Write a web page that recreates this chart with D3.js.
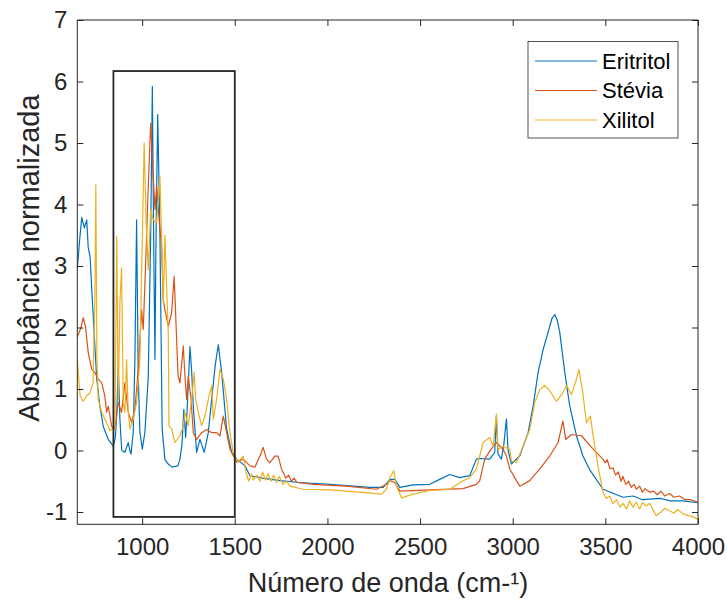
<!DOCTYPE html>
<html><head><meta charset="utf-8">
<script src="https://cdn.jsdelivr.net/npm/d3@7"></script>
<style>
body{margin:0;background:#fff;}
svg{display:block;font-family:"Liberation Sans",Arial,Helvetica,sans-serif;}
</style></head>
<body><svg id="c" width="727" height="601"></svg>
<script>
const seriesNames = ["Eritritol","Stévia","Xilitol"];
const seriesColors = ["#0072BD","#D95319","#EDB120"];
const xTicks = [1000,1500,2000,2500,3000,3500,4000];
const yTicks = [-1,0,1,2,3,4,5,6,7];
const xLabel = "Número de onda (cm-¹)";
const yLabel = "Absorbância normalizada";
const zoomBox = [845,1500,-1.08,6.17];

const eritritol = [[650,2.94],[662,3.4],[674,3.79],[688,3.62],[701,3.75],[709,3.3],[719,3.15],[728,2.62],[745,1.69],[755,1.16],[772,0.72],[790,0.39],[817,0.18],[844,0.07],[855,0.2],[863,0.6],[871,1.37],[880,0.5],[890,0.0],[907,-0.03],[916,0.05],[925,0.13],[934,0.0],[940,-0.06],[952,0.3],[961,1.5],[970,3.75],[979,1.2],[988,0.3],[1001,0.02],[1015,0.3],[1033,1.2],[1046,3.5],[1055,5.92],[1062,3.5],[1069,1.48],[1075,3.5],[1084,5.46],[1096,3.5],[1108,0.35],[1123,-0.15],[1141,-0.22],[1161,-0.27],[1193,-0.25],[1204,-0.14],[1215,0.1],[1225,0.67],[1235,0.21],[1245,0.8],[1258,1.69],[1267,1.3],[1276,0.72],[1294,-0.03],[1312,0.18],[1335,-0.03],[1357,0.29],[1375,0.83],[1395,1.4],[1411,1.72],[1429,1.27],[1456,0.35],[1483,-0.03],[1510,-0.14],[1555,-0.25],[1582,-0.41],[1650,-0.45],[1743,-0.49],[1850,-0.52],[2013,-0.55],[2229,-0.6],[2301,-0.6],[2337,-0.47],[2364,-0.47],[2391,-0.6],[2462,-0.56],[2552,-0.55],[2606,-0.47],[2660,-0.39],[2714,-0.44],[2768,-0.41],[2804,-0.14],[2822,-0.13],[2876,-0.14],[2903,-0.03],[2912,0.56],[2920,-0.05],[2939,-0.14],[2952,0.1],[2966,0.51],[2975,0.0],[2993,-0.22],[3038,-0.09],[3083,0.29],[3110,0.72],[3137,1.27],[3164,1.64],[3200,2.02],[3212,2.15],[3227,2.21],[3240,2.12],[3254,1.92],[3281,1.27],[3308,0.72],[3344,0.24],[3379,-0.09],[3415,-0.31],[3487,-0.63],[3595,-0.76],[3650,-0.74],[3700,-0.8],[3739,-0.79],[3800,-0.78],[3850,-0.82],[3919,-0.82],[3998,-0.85]];

const stevia = [[650,1.84],[670,2.0],[682,2.16],[695,2.0],[709,1.59],[728,1.32],[745,1.27],[763,1.16],[782,1.1],[799,0.88],[808,0.62],[817,0.72],[836,0.39],[853,0.35],[871,0.78],[889,0.62],[907,1.1],[925,0.62],[943,0.46],[961,0.67],[979,1.32],[997,2.29],[1006,1.97],[1021,3.22],[1033,4.29],[1046,5.32],[1057,4.62],[1069,3.92],[1078,4.29],[1092,3.75],[1105,3.32],[1114,2.45],[1123,2.29],[1141,2.02],[1159,2.24],[1173,2.83],[1186,1.81],[1194,1.21],[1204,1.1],[1222,1.7],[1231,1.21],[1240,0.83],[1249,1.21],[1264,0.83],[1276,0.29],[1294,0.18],[1321,0.29],[1348,0.34],[1375,0.29],[1402,0.29],[1420,0.24],[1438,0.56],[1456,0.29],[1474,0.02],[1510,-0.19],[1545,-0.14],[1582,-0.25],[1609,-0.27],[1636,-0.09],[1653,0.05],[1672,-0.14],[1689,-0.2],[1716,-0.09],[1734,-0.09],[1752,-0.3],[1765,-0.38],[1775,-0.45],[1790,-0.4],[1805,-0.5],[1820,-0.45],[1835,-0.52],[1923,-0.55],[2103,-0.58],[2265,-0.63],[2319,-0.55],[2337,-0.49],[2364,-0.52],[2391,-0.66],[2552,-0.64],[2732,-0.62],[2804,-0.55],[2822,-0.49],[2849,-0.14],[2876,-0.01],[2912,0.13],[2948,0.02],[2966,-0.09],[2984,-0.3],[3020,-0.49],[3038,-0.58],[3092,-0.49],[3146,-0.3],[3200,-0.09],[3245,0.13],[3271,0.48],[3286,0.18],[3317,0.26],[3371,0.24],[3425,0.05],[3487,-0.14],[3500,-0.2],[3510,-0.15],[3525,-0.3],[3541,-0.28],[3555,-0.4],[3570,-0.35],[3585,-0.5],[3595,-0.42],[3610,-0.55],[3625,-0.5],[3640,-0.6],[3655,-0.55],[3667,-0.63],[3685,-0.58],[3700,-0.68],[3715,-0.62],[3739,-0.68],[3760,-0.66],[3780,-0.72],[3800,-0.66],[3820,-0.74],[3847,-0.7],[3870,-0.76],[3900,-0.74],[3930,-0.8],[3960,-0.8],[3998,-0.84]];

const xilitol = [[650,1.48],[665,0.89],[682,0.8],[701,0.89],[719,0.94],[735,1.1],[745,2.5],[750,4.32],[756,1.5],[763,0.83],[782,0.62],[799,0.51],[817,0.39],[826,0.32],[844,0.37],[853,0.35],[863,3.48],[871,0.78],[880,2.4],[889,2.97],[898,0.78],[907,0.62],[916,1.48],[925,0.62],[934,0.35],[952,0.51],[970,0.78],[988,1.48],[1001,3.48],[1011,5.0],[1021,3.75],[1033,2.94],[1046,3.92],[1060,3.75],[1078,3.7],[1096,4.46],[1105,3.48],[1114,2.4],[1123,3.5],[1132,2.67],[1141,1.92],[1145,0.4],[1159,0.35],[1177,0.13],[1204,0.24],[1222,0.4],[1231,0.62],[1249,0.4],[1267,0.83],[1281,1.27],[1289,0.83],[1303,0.62],[1321,0.4],[1339,0.56],[1357,0.83],[1375,1.05],[1384,0.51],[1402,0.83],[1420,1.32],[1438,1.16],[1456,0.83],[1474,0.29],[1491,-0.03],[1518,-0.19],[1545,-0.09],[1560,-0.35],[1575,-0.5],[1590,-0.38],[1600,-0.48],[1620,-0.4],[1635,-0.5],[1650,-0.35],[1665,-0.48],[1680,-0.38],[1695,-0.5],[1710,-0.4],[1725,-0.52],[1740,-0.42],[1760,-0.55],[1780,-0.5],[1797,-0.58],[1869,-0.63],[2013,-0.64],[2193,-0.68],[2292,-0.71],[2319,-0.63],[2337,-0.44],[2358,-0.33],[2373,-0.58],[2400,-0.77],[2462,-0.71],[2552,-0.65],[2660,-0.63],[2732,-0.49],[2768,-0.44],[2804,-0.3],[2840,0.13],[2876,0.21],[2894,0.07],[2912,0.59],[2921,0.02],[2948,0.07],[2984,0.02],[2993,-0.17],[3020,-0.2],[3092,0.34],[3119,0.78],[3146,0.99],[3173,1.06],[3200,0.97],[3236,0.8],[3271,0.94],[3290,1.06],[3317,0.91],[3344,1.16],[3357,1.32],[3376,0.99],[3398,0.45],[3419,0.56],[3437,0.18],[3460,-0.25],[3487,-0.68],[3505,-0.78],[3523,-0.74],[3540,-0.86],[3560,-0.8],[3580,-0.92],[3595,-0.86],[3615,-0.95],[3630,-0.82],[3650,-0.92],[3667,-0.84],[3685,-0.95],[3700,-0.85],[3720,-0.9],[3739,-0.86],[3755,-0.95],[3775,-1.06],[3800,-1.0],[3820,-0.94],[3847,-0.98],[3870,-1.02],[3890,-0.96],[3919,-1.03],[3950,-1.06],[3975,-1.08],[3998,-1.12]];

const allSeries = [eritritol, stevia, xilitol];

const svg = d3.select("#c");
const L = 77.3, R = 698, T = 20, B = 524.3;
const x = d3.scaleLinear().domain([650,4000]).range([L,R]);
const y = d3.scaleLinear().domain([-1.2,7]).range([B,T]);
const axisColor = "#262626";

svg.append("defs").append("clipPath").attr("id","clip")
  .append("rect").attr("x",L).attr("y",T).attr("width",R-L).attr("height",B-T);

const line = d3.line().x(d=>x(d[0])).y(d=>y(d[1]));
const g = svg.append("g").attr("clip-path","url(#clip)");
allSeries.forEach((s,i)=>{
  g.append("path").datum(s).attr("d",line)
   .attr("fill","none").attr("stroke",seriesColors[i]).attr("stroke-width",1.2)
   .attr("stroke-linejoin","round");
});

// zoom rectangle
svg.append("rect")
  .attr("x",x(zoomBox[0])).attr("y",y(zoomBox[3]))
  .attr("width",x(zoomBox[1])-x(zoomBox[0])).attr("height",y(zoomBox[2])-y(zoomBox[3]))
  .attr("fill","none").attr("stroke",axisColor).attr("stroke-width",1.8);

// axes
const tl = 6;
const xb = svg.append("g").attr("transform",`translate(0,${B})`)
  .call(d3.axisBottom(x).tickValues(xTicks).tickSize(-tl).tickPadding(14).tickFormat(d3.format("d")));
const xt = svg.append("g").attr("transform",`translate(0,${T})`)
  .call(d3.axisTop(x).tickValues(xTicks).tickSize(-tl).tickFormat(""));
const yl = svg.append("g").attr("transform",`translate(${L},0)`)
  .call(d3.axisLeft(y).tickValues(yTicks).tickSize(-tl).tickPadding(10).tickFormat(d3.format("d")));
const yr = svg.append("g").attr("transform",`translate(${R},0)`)
  .call(d3.axisRight(y).tickValues(yTicks).tickSize(-tl).tickFormat(""));
[xb,xt,yl,yr].forEach(a=>{
  a.selectAll("path.domain").attr("stroke",axisColor).attr("stroke-width",1);
  a.selectAll(".tick line").attr("stroke",axisColor).attr("stroke-width",1);
  a.selectAll("text").attr("fill",axisColor).style("font-size","24px")
   .style("font-family","'Liberation Sans',Arial,sans-serif");
});
xb.selectAll("path.domain").attr("d",`M${L},0H${R}`);
xt.selectAll("path.domain").attr("d",`M${L},0H${R}`);
yl.selectAll("path.domain").attr("d",`M0,${T}V${B}`);
yr.selectAll("path.domain").attr("d",`M0,${T}V${B}`);
yl.selectAll("text").text(d=>d<0?"-"+Math.abs(d):d);

// axis titles
svg.append("text").attr("x",388).attr("y",592).attr("text-anchor","middle")
  .attr("fill",axisColor).style("font-size","27px").text(xLabel);
svg.append("text").attr("transform",`translate(39,258) rotate(-90)`)
  .attr("text-anchor","middle").attr("fill",axisColor).style("font-size","29px").text(yLabel);

// legend
const lg = svg.append("g");
lg.append("rect").attr("x",528).attr("y",41.5).attr("width",150).attr("height",96.5)
  .attr("fill","#fff").attr("stroke",axisColor).attr("stroke-width",0.8);
seriesNames.forEach((n,i)=>{
  const yy = 61 + i*29.5;
  lg.append("line").attr("x1",535).attr("x2",597).attr("y1",yy).attr("y2",yy)
    .attr("stroke",seriesColors[i]).attr("stroke-width",1.2);
  lg.append("text").attr("x",602).attr("y",yy+7.5).attr("fill","#000")
    .style("font-size","22px").text(n);
});
</script></body></html>
